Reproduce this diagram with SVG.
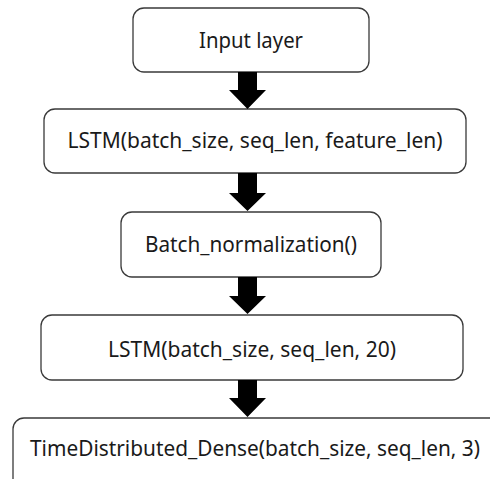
<svg xmlns="http://www.w3.org/2000/svg" width="490" height="479" viewBox="0 0 490 479">
<style>
.box{fill:#fff;stroke:#3a3a3a;stroke-width:1.3}
.lbl{font-family:"Noto Sans","Open Sans","DejaVu Sans",sans-serif;font-size:21px;fill:#1a1a1a}
.arr{fill:#000}
</style>
<rect width="490" height="479" fill="#fff"/>
<g id="input-layer">
<rect class="box" x="133" y="8" width="236" height="64" rx="11"/>
<text class="lbl" x="251" y="48" text-anchor="middle" textLength="104" lengthAdjust="spacingAndGlyphs">Input layer</text>
</g>
<g id="lstm1">
<rect class="box" x="44" y="109" width="422" height="64" rx="11"/>
<text class="lbl" x="255" y="148" text-anchor="middle" textLength="375" lengthAdjust="spacingAndGlyphs">LSTM(batch_size, seq_len, feature_len)</text>
</g>
<g id="batchnorm">
<rect class="box" x="121" y="212" width="260" height="65" rx="11"/>
<text class="lbl" x="251" y="252" text-anchor="middle" textLength="212" lengthAdjust="spacingAndGlyphs">Batch_normalization()</text>
</g>
<g id="lstm2">
<rect class="box" x="41" y="315" width="422" height="65" rx="11"/>
<text class="lbl" x="252" y="357" text-anchor="middle" textLength="288" lengthAdjust="spacingAndGlyphs">LSTM(batch_size, seq_len, 20)</text>
</g>
<g id="dense">
<rect class="box" x="13" y="418" width="500" height="80" rx="11"/>
<text class="lbl" x="30" y="456" textLength="450" lengthAdjust="spacingAndGlyphs">TimeDistributed_Dense(batch_size, seq_len, 3)</text>
</g>
<g id="connectors">
<polygon class="arr" points="238,72 257,72 257,90 266,90 247.5,109 229,90 238,90"/>
<polygon class="arr" points="238,173 257,173 257,193 266,193 247.5,211 229,193 238,193"/>
<polygon class="arr" points="238,277 257,277 257,296 266,296 247.5,314 229,296 238,296"/>
<polygon class="arr" points="238,380 257,380 257,398 266,398 247.5,417 229,398 238,398"/>
</g>
</svg>
